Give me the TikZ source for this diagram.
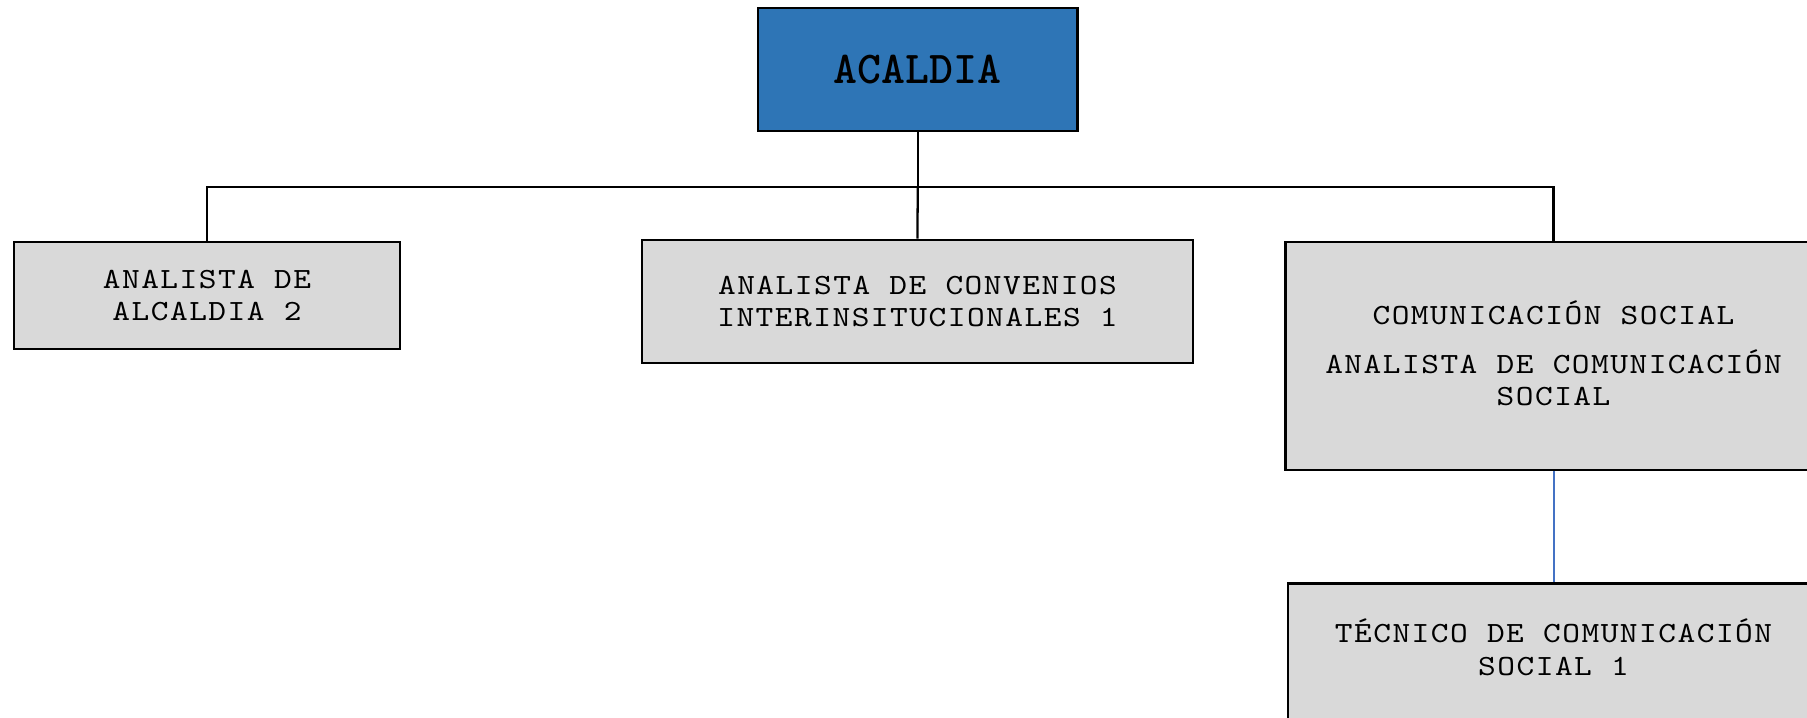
\documentclass[tikz,border=0pt]{standalone}
\usepackage{fontspec}
\newfontfamily\boxfam{lmmono10-regular.otf}[FakeStretch=1.15,LetterSpace=5.1]
\definecolor{topblue}{HTML}{2E75B6}
\definecolor{boxgray}{HTML}{D9D9D9}
\definecolor{linkblue}{HTML}{4472C4}
\newcommand{\boxfont}{\boxfam\fontsize{11}{12.2}\selectfont}
\tikzset{
  orgbox/.style={draw=black, line width=1pt, fill=boxgray, inner sep=0pt, align=center,
    font=\boxfont, text=black},
  topbox/.style={orgbox, fill=topblue, font=\ttfamily\bfseries\fontsize{17.1}{17}\selectfont, text=black},
  conn/.style={draw=black, line width=0.85pt},
  blueconn/.style={draw=linkblue, line width=0.75pt},
  lbl/.style={inner sep=0pt, align=center, font=\boxfont, text=black}
}
\begin{document}
\begin{tikzpicture}[x=0.375pt, y=-0.375pt]
\useasboundingbox (0,0) rectangle (1807,718);
\clip (0,0) rectangle (1807,718);
\fill[white] (0,0) rectangle (1807,718);
\node[topbox, minimum width=119.8pt, minimum height=46.1pt] (top) at (917.7,69.5) {ACALDIA};
\node[orgbox, minimum width=144.8pt, minimum height=40.1pt] (left) at (207,295.5) {ANALISTA DE\\ALCALDIA 2};
\node[orgbox, minimum width=206.6pt, minimum height=46.1pt] (mid) at (917.5,301.5) {ANALISTA DE CONVENIOS\\INTERINSITUCIONALES 1};
\node[orgbox, minimum width=200.8pt, minimum height=85.5pt] (right) at (1553.5,356) {};
\node[lbl] (righttext) at (1553.5,353.5) {COMUNICACIÓN SOCIAL\\[6pt]ANALISTA DE COMUNICACIÓN\\SOCIAL};
\node[orgbox, minimum width=199.1pt, minimum height=85.5pt, anchor=north] (bottom) at (1553.5,582) {};
\node[lbl] (bottomtext) at (1553.5,647.5) {TÉCNICO DE COMUNICACIÓN\\SOCIAL 1};
\coordinate (bus) at (917.7,186.7);
\draw[conn] (top.south) -- (bus);
\draw[conn] (left.north) |- (bus) -| (right.north);
\draw[conn] (bus) -- (mid.north);
\draw[blueconn] (right.south) -- (bottom.north);
\end{tikzpicture}
\end{document}
